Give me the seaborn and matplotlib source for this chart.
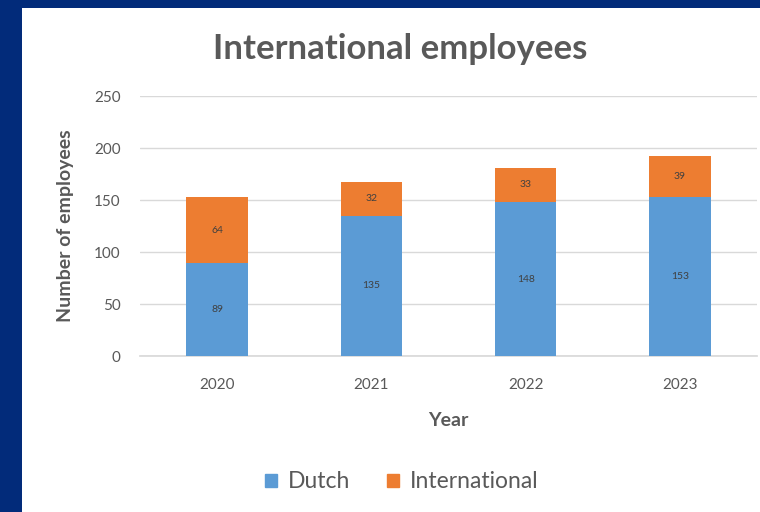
import matplotlib
matplotlib.use("Agg")
import matplotlib.pyplot as plt
import matplotlib.patches as mpatches
import seaborn as sns
import pandas as pd

years = ["2020", "2021", "2022", "2023"]
dutch = [89, 135, 148, 153]
international = [64, 32, 33, 39]
yticks = [0, 50, 100, 150, 200, 250]

BLUE = "#5B9BD5"
ORANGE = "#ED7D31"
NAVY = "#022b7a"
GREY = "#595959"

sns.set_theme(style="white")
plt.rcParams["font.family"] = ["Lato", "DejaVu Sans"]

df = pd.DataFrame({"Year": years, "Dutch": dutch, "International": international})
df["Total"] = df["Dutch"] + df["International"]

fig = plt.figure(figsize=(7.6, 5.12), dpi=100, facecolor=NAVY)
bg = mpatches.Rectangle((22 / 760, 0), 1, (512 - 8) / 512,
                        transform=fig.transFigure, facecolor="white",
                        edgecolor="none", zorder=-10)
fig.patches.append(bg)
ax = fig.add_axes([140 / 760, (512 - 356) / 512, 617 / 760, 260 / 512])
ax.set_zorder(1)
ax.set_facecolor("none")

sns.barplot(data=df, x="Year", y="Total", color=ORANGE, width=0.4, ax=ax,
            saturation=1, edgecolor="none", zorder=3)
sns.barplot(data=df, x="Year", y="Dutch", color=BLUE, width=0.4, ax=ax,
            saturation=1, edgecolor="none", zorder=3)

for i, (d, it) in enumerate(zip(dutch, international)):
    ax.text(i, d / 2, str(d), ha="center", va="center", fontsize=7.5, color="#404040", zorder=4)
    ax.text(i, d + it / 2, str(it), ha="center", va="center", fontsize=7.5, color="#404040", zorder=4)

ax.set_ylim(0, 250)
ax.set_xlim(-0.5, 3.5)
ax.set_yticks(yticks)
ax.yaxis.grid(True, color="#d9d9d9", linewidth=1, zorder=0)
ax.set_axisbelow(True)
for s in ["top", "right", "left"]:
    ax.spines[s].set_visible(False)
ax.spines["bottom"].set_color("#d9d9d9")
ax.tick_params(axis="both", length=0, colors=GREY, labelsize=11)
ax.tick_params(axis="y", pad=14)
ax.tick_params(axis="x", pad=16)

ax.set_xlabel("Year", fontsize=14, fontweight="bold", color=GREY, labelpad=14)
ax.set_ylabel("Number of employees", fontsize=14, fontweight="bold", color=GREY, labelpad=14)
fig.text(400 / 760, 1 - 49 / 512, "International employees", ha="center", va="center",
         fontsize=25, fontweight="bold", color=GREY)

handles = [mpatches.Patch(color=BLUE, label="Dutch"),
           mpatches.Patch(color=ORANGE, label="International")]
fig.legend(handles=handles, loc="center", bbox_to_anchor=(402 / 760, 1 - 482 / 512),
           ncol=2, frameon=False, fontsize=16.5, handlelength=0.5, handleheight=0.5,
           handletextpad=0.5, columnspacing=1.6, labelcolor=GREY)

fig.savefig("out.png", dpi=100, facecolor=NAVY)
